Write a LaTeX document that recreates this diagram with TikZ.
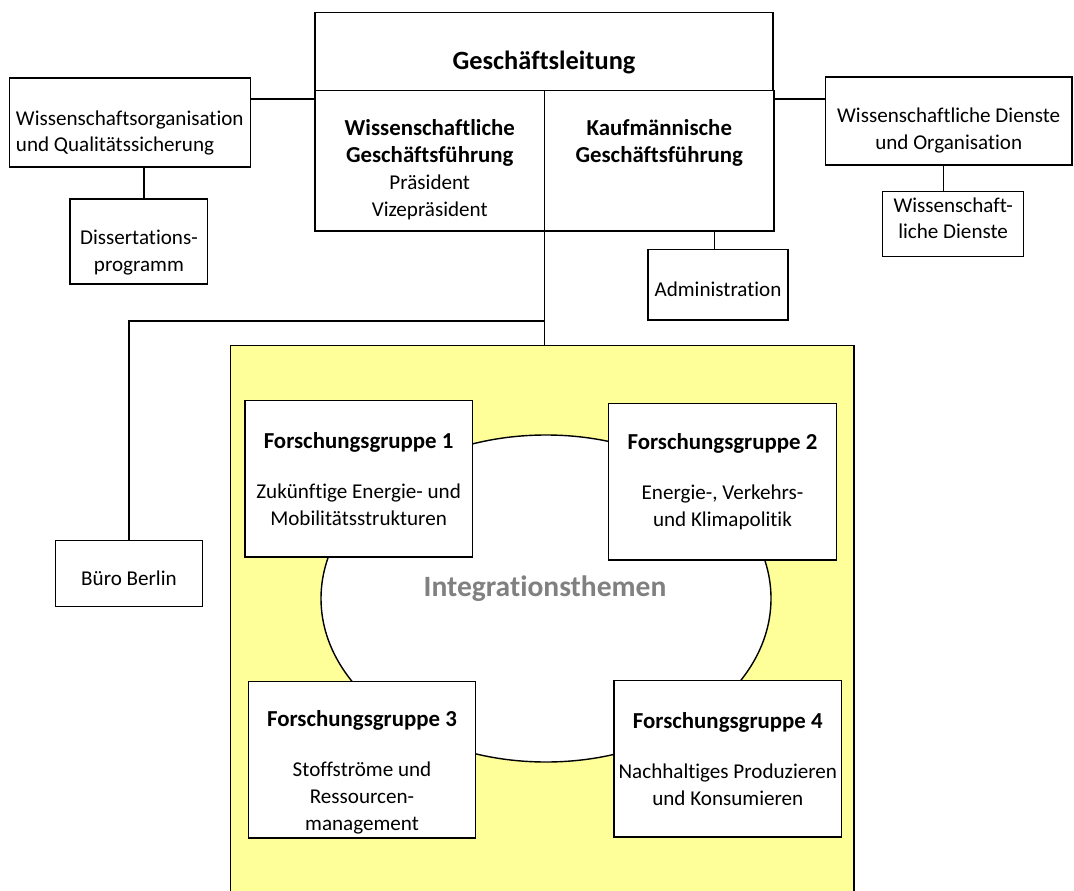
\documentclass[tikz,border=0pt]{standalone}
\usepackage{fontspec}
\setmainfont{Carlito}[Ligatures=NoCommon]
\usetikzlibrary{positioning, shapes.geometric}
\usepackage{xcolor}
\definecolor{fzyellow}{RGB}{255,255,153}
\definecolor{themegray}{RGB}{128,128,128}
\newcommand{\regtext}{\fontsize{12}{15.4}\selectfont\mdseries}
\newcommand{\fgtitle}[1]{{\fontsize{13}{15.4}\selectfont\bfseries #1}}
% strut that pushes a text block down (height) or up (depth)
\newcommand{\textdrop}[1]{\rule{0pt}{#1}}
\newcommand{\textlift}[1]{\rule[-#1]{0pt}{#1}}

\begin{document}
\begin{tikzpicture}[
    box/.style    = {rectangle, draw=black, fill=white, line width=0.8pt,
                     outer sep=0pt, inner sep=2pt, align=center,
                     font=\fontsize{12}{15}\selectfont},
    head/.style   = {align=center, inner sep=2pt,
                     font=\fontsize{13}{15.4}\selectfont\bfseries},
    group/.style  = {box, minimum width=4.55cm, minimum height=3.13cm,
                     font=\fontsize{12}{15.4}\selectfont},
    link/.style   = {line width=0.8pt},
]
\useasboundingbox (0,0) rectangle (21.48,-17.82);

% Geschaeftsleitung (top centre)
\node[box, minimum width=9.16cm, minimum height=1.56cm,
      font=\fontsize{15}{18}\selectfont\bfseries] (gl) at (10.88,-1.034) {\textdrop{23pt}Geschäftsleitung};
\node[box, anchor=north west, minimum width=4.59cm, minimum height=2.806cm] (wgf) at (gl.south west) {};
\node[box, right=0pt of wgf, minimum width=4.59cm, minimum height=2.806cm] (kgf) {};
\node[head, anchor=north] (wgf-t) at ([yshift=-0.5cm]wgf.north)
    {Wissenschaftliche\\Geschäftsführung\\{\regtext Präsident}\\{\regtext Vizepräsident}};
\node[head, anchor=north] (kgf-t) at ([yshift=-0.5cm]kgf.north) {Kaufmännische\\Geschäftsführung};

% Stabsstellen left and right
\node[box, align=left, minimum width=4.82cm, minimum height=1.78cm] (wo) at (2.596,-2.45)
    {\textdrop{20pt}Wissenschaftsorganisation\\und Qualitätssicherung};
\node[box, minimum width=2.75cm, minimum height=1.70cm] (diss) at (2.778,-4.83) {\textdrop{21pt}Dissertations-\\programm};
\node[box, minimum width=4.93cm, minimum height=1.76cm] (wdo) at (18.974,-2.42)
    {\textdrop{19pt}Wissenschaftliche Dienste\\und Organisation};
\node[box, minimum width=2.82cm, minimum height=1.30cm] (wd) at (19.062,-4.484) {Wissenschaft-\\liche Dienste\textlift{7pt}};
\node[box, minimum width=2.80cm, minimum height=1.414cm] (admin) at (14.36,-5.694) {\textdrop{13pt}Administration};
\node[box, minimum width=2.93cm, minimum height=1.32cm] (buero) at (2.58,-11.474) {\textdrop{14pt}Büro Berlin};

% links to the board
\coordinate (lvl) at (0,-1.98);
\coordinate (bl)  at (0,-6.42);
\draw[link] (wo.east |- lvl) -- (wgf.west |- lvl);
\draw[link] (kgf.east |- lvl) -- (wdo.west |- lvl);
\draw[link] ([xshift=0.1cm]diss.north) -- ([xshift=0.1cm]diss.north |- wo.south);
\draw[link] ([xshift=-0.19cm]wd.north) -- ([xshift=-0.19cm]wd.north |- wdo.south);
\draw[link] ([xshift=-0.07cm]admin.north) -- ([xshift=-0.07cm]admin.north |- kgf.south);

% research area
\node[rectangle, draw=black, fill=fzyellow, line width=0.8pt, anchor=north,
      minimum width=12.47cm, minimum height=11cm] (fz) at (10.845,-6.9) {};
\draw[link] (wgf.south east) -- (wgf.south east |- fz.north);
\draw[link] (wgf.south east |- bl) -| (buero.north);

\node[ellipse, draw=black, fill=white, line width=0.8pt, inner sep=0pt,
      minimum width=9cm, minimum height=6.54cm] (integ) at (10.92,-11.97) {};
\node[text=themegray, font=\fontsize{16.8}{20}\selectfont\bfseries] (integ-t) at (10.9,-11.78) {Integrationsthemen};

% Forschungsgruppen
\node[group] (fg1) at (7.172,-9.574)
    {\fgtitle{Forschungsgruppe 1}\\[13pt]Zukünftige Energie- und\\Mobilitätsstrukturen};
\node[group] (fg2) at (14.45,-9.634)
    {\fgtitle{Forschungsgruppe 2}\\[13pt]Energie-, Verkehrs-\\und Klimapolitik};
\node[group] (fg3) at (7.24,-15.196)
    {\textdrop{23pt}\fgtitle{Forschungsgruppe 3}\\[13pt]Stoffströme und\\Ressourcen-\\management};
\node[group] (fg4) at (14.556,-15.176)
    {\fgtitle{Forschungsgruppe 4}\\[13pt]Nachhaltiges Produzieren\\und Konsumieren};

\end{tikzpicture}
\end{document}
